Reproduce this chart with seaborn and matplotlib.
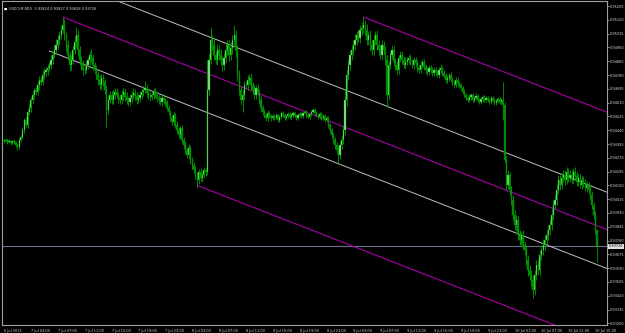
import numpy as np
import pandas as pd
import matplotlib
matplotlib.use("Agg")
import matplotlib.pyplot as plt
import matplotlib.transforms as mtransforms
import seaborn as sns

# ---------------- data (prices in points, 1 point = 0.00001) ----------------
closes = [
    94373,94380,94367,94373,94361,94373,94367,94349,94337,94380,94398,94441,94503,94472,94552,94577,
    94626,94657,94688,94675,94718,94749,94737,94780,94798,94811,94823,94842,94872,94903,94934,94965,
    94996,95026,95057,95088,95026,94965,94903,94842,94872,94934,94983,95026,94934,94872,94842,94811,
    94811,94842,94872,94903,94885,94842,94811,94780,94749,94718,94762,94737,94688,94564,94626,94657,
    94626,94657,94675,94657,94638,94626,94657,94675,94645,94626,94614,94638,94657,94669,94651,94626,
    94638,94657,94675,94688,94700,94669,94657,94645,94657,94675,94657,94638,94626,94614,94638,94626,
    94614,94577,94552,94515,94490,94534,94472,94441,94410,94453,94380,94349,94318,94287,94330,94256,
    94226,94195,94164,94133,94183,94146,94164,94195,94183,94688,94872,94996,94965,94903,94872,94934,
    94903,94872,94842,94885,94934,94965,94903,94946,94996,95026,94934,94780,94688,94626,94657,94718,
    94718,94749,94762,94718,94688,94657,94700,94675,94626,94577,94552,94534,94515,94546,94527,94515,
    94527,94515,94534,94503,94521,94546,94534,94515,94527,94540,94521,94534,94546,94527,94515,94534,
    94540,94527,94546,94552,94534,94521,94540,94552,94564,94546,94534,94521,94540,94515,94527,94503,
    94515,94472,94441,94410,94380,94349,94318,94287,94349,94380,94441,94626,94780,94842,94903,94934,
    94965,94996,95026,95008,95057,95070,95088,95057,94996,95026,94965,94934,94996,95026,94965,94934,
    94903,94965,94934,94872,94657,94842,94903,94934,94860,94842,94811,94885,94903,94872,94842,94860,
    94872,94885,94860,94842,94872,94854,94823,94811,94842,94860,94829,94811,94798,94823,94811,94792,
    94811,94798,94780,94811,94823,94792,94774,94749,94762,94780,94749,94737,94718,94749,94731,94718,
    94700,94675,94657,94638,94626,94645,94657,94626,94638,94651,94626,94614,94632,94645,94626,94638,
    94626,94614,94638,94626,94608,94620,94632,94614,94626,94595,94256,94102,94164,94072,94010,93918,
    93856,93887,93794,93764,93794,93733,93702,93640,93579,93548,93517,93456,93548,93610,93579,93671,
    93702,93733,93764,93794,93825,93856,93918,93979,94010,94072,94133,94102,94146,94164,94133,94183,
    94146,94164,94133,94183,94158,94121,94146,94102,94133,94115,94084,94102,94072,94041,93979,93918,
    93824,93726,
]
first_open = 94380

wick_up = [
    8,10,6,12,9,7,11,8,10,14,12,18,15,20,16,22,
    18,25,15,20,28,22,16,30,24,18,26,20,32,22,28,35,
    30,25,28,49,35,22,30,26,34,28,40,50,30,24,28,32,
    26,30,22,28,35,24,20,28,22,30,26,24,20,28,22,26,
    24,28,22,26,20,25,30,22,24,28,21,26,23,30,25,22,
    22,26,20,24,45,22,25,20,23,28,22,24,20,26,22,24,
    15,12,18,14,20,16,14,22,18,15,20,16,24,18,22,20,
    22,18,25,20,16,22,18,20,15,184,35,80,30,40,28,35,
    30,35,28,32,40,30,36,38,30,62,34,30,28,25,30,26,
    28,32,25,30,22,28,20,24,18,22,16,20,14,18,15,12,
    12,10,14,8,12,15,10,12,9,14,11,10,13,9,12,10,
    10,12,9,14,10,12,8,11,14,10,12,9,13,10,12,11,
    12,10,14,12,16,18,20,22,25,28,30,60,40,35,30,28,
    30,35,28,32,30,35,49,30,35,28,32,30,35,28,30,32,
    28,30,25,22,30,26,24,28,22,26,24,20,26,22,24,28,
    22,20,24,18,22,20,16,18,22,20,18,16,20,18,16,20,
    18,20,16,18,22,14,16,18,20,14,16,18,14,20,16,14,
    14,12,16,14,12,15,10,14,12,16,10,12,14,10,12,14,
    12,10,14,12,10,13,12,14,10,111,20,25,30,20,25,30,
    28,30,25,32,28,30,26,28,32,28,30,34,30,28,32,30,
    30,35,28,32,30,34,36,30,32,35,30,28,32,30,28,30,
    25,28,30,24,28,26,22,28,24,26,22,24,20,22,24,20,
    22,3,
]
wick_dn = [
    9,7,11,8,10,6,12,14,16,10,12,15,18,14,20,16,
    22,18,26,20,16,28,20,18,24,22,30,18,26,24,20,22,
    25,30,22,20,28,35,30,40,32,26,24,30,38,28,32,30,
    24,20,26,28,22,30,24,26,28,22,30,26,28,111,24,20,
    26,22,24,20,28,22,25,30,22,24,26,20,28,22,24,26,
    20,24,22,26,20,23,22,25,20,24,21,22,26,20,23,22,
    16,14,18,20,15,22,18,16,20,24,18,22,26,20,24,22,
    24,20,26,49,22,18,25,20,24,16,30,25,28,30,26,32,
    30,28,35,30,32,28,34,30,36,28,40,35,30,28,74,30,
    26,30,24,28,22,26,24,20,22,26,18,20,16,18,14,16,
    10,14,9,12,10,13,11,10,14,9,12,10,11,13,10,12,
    12,10,13,9,11,12,10,14,9,12,10,13,11,10,12,14,
    14,12,16,18,20,22,24,49,26,22,28,30,35,30,28,32,
    28,30,32,26,30,28,30,32,28,30,34,28,30,32,28,30,
    26,28,24,30,74,28,26,24,22,28,24,26,22,24,20,26,
    20,22,18,20,24,18,22,20,16,18,20,22,18,20,16,18,
    16,18,14,16,20,18,14,16,18,20,14,16,18,14,16,18,
    12,14,10,12,14,12,16,10,14,12,10,14,12,16,10,12,
    10,12,14,10,12,10,14,12,10,92,16,30,25,30,28,32,
    30,28,32,34,30,28,30,32,35,30,34,50,30,32,28,30,
    32,30,28,34,30,32,28,30,26,30,28,32,26,28,30,26,
    24,22,26,20,24,22,26,20,24,22,20,24,22,26,24,28,
    24,98,
]

time_labels = ["6 Jul 2015", "7 Jul 03:00", "7 Jul 07:00", "7 Jul 11:00", "7 Jul 15:00",
               "7 Jul 19:00", "7 Jul 23:00", "8 Jul 03:00", "8 Jul 07:00", "8 Jul 11:00",
               "8 Jul 15:00", "8 Jul 19:00", "8 Jul 23:00", "9 Jul 03:00", "9 Jul 07:00",
               "9 Jul 11:00", "9 Jul 15:00", "9 Jul 19:00", "9 Jul 23:00", "10 Jul 03:00",
               "10 Jul 07:00", "10 Jul 11:00", "10 Jul 15:00"]
bars_per_label = 16

price_ticks = [0.95205, 0.95120, 0.95035, 0.94950, 0.94865, 0.94780, 0.94695, 0.94610,
               0.94525, 0.94440, 0.94355, 0.94270, 0.94185, 0.94100, 0.94015, 0.93930,
               0.93845, 0.93760, 0.93675, 0.93590, 0.93505, 0.93420, 0.93335, 0.93250]

last_price = 0.93726
title_text = "USDCHF,M15  0.93824 0.93827 0.93628 0.93726"

# trend lines: (bar index pair, price pair)
magenta_lines = [
    ([35, 359], [0.95137, 0.93828]),
    ([115, 359], [0.94100, 0.93114]),
    ([214, 359], [0.95137, 0.94551]),
]
white_lines = [
    ([27, 359], [0.95400, 0.94058]),
    ([27, 359], [0.94928, 0.93588]),
]

# ---------------- build OHLC ----------------
c = np.array(closes, dtype=float) / 1e5
o = np.concatenate([[first_open / 1e5], c[:-1]])
h = np.maximum(o, c) + np.array(wick_up) / 1e5
l = np.minimum(o, c) - np.array(wick_dn) / 1e5
x = np.arange(len(c))
df = pd.DataFrame({"bar": x, "open": o, "high": h, "low": l, "close": c})

# ---------------- figure ----------------
sns.set_style("dark")
plt.rcParams["font.family"] = ["DejaVu Sans"]
fig = plt.figure(figsize=(6.25, 3.33), dpi=100, facecolor="black")
ax = fig.add_axes([2 / 625, 8 / 333, 605 / 625, 324 / 333])
ax.set_facecolor("black")

# channel / trend lines
for xs, ys in magenta_lines:
    sns.lineplot(x=xs, y=ys, ax=ax, color="#a800a8", linewidth=0.8, zorder=2)
for xs, ys in white_lines:
    sns.lineplot(x=xs, y=ys, ax=ax, color="#c0c0c0", linewidth=0.7, zorder=2)

# last price line
ax.axhline(last_price, color="#6c6e8e", linewidth=0.8, zorder=1)

# candles
up = df["close"] >= df["open"]
ax.vlines(df["bar"], df["low"], df["high"], color="#00a000", linewidth=0.6, zorder=3)
body_h = np.maximum((df["close"] - df["open"]).abs(), 0.000012)
body_b = np.minimum(df["open"], df["close"])
ax.bar(df["bar"][up], body_h[up], bottom=body_b[up], width=0.72,
       color="#8cea8c", edgecolor="#00a000", linewidth=0.25, zorder=4)
ax.bar(df["bar"][~up], body_h[~up], bottom=body_b[~up], width=0.72,
       color="#008a00", edgecolor="#00a000", linewidth=0.25, zorder=4)

ax.set_xlim(-1.2, 359)
ax.set_ylim(0.93240, 0.95236)

# axes styling
for side in ["left", "right", "top", "bottom"]:
    ax.spines[side].set_visible(True)
    ax.spines[side].set_color("#a0a0a0")
    ax.spines[side].set_linewidth(0.8)
ax.grid(False)

ax.yaxis.tick_right()
ax.set_yticks(price_ticks)
ax.set_yticklabels([f"{p:.5f}" for p in price_ticks])
ax.set_xticks(np.arange(len(time_labels)) * bars_per_label)
ax.set_xticklabels(time_labels, ha="left")
ax.tick_params(axis="both", colors="#c0c0c0", labelcolor="#d8d8d8", labelsize=2.5,
               length=1.5, width=0.5, pad=0.8, direction="out")
ax.tick_params(axis="x", pad=1.2)
ax.set_xlabel("")
ax.set_ylabel("")

# last price tag
trans = mtransforms.blended_transform_factory(ax.transAxes, ax.transData)
ax.text(1.003, last_price, f"{last_price:.5f}", transform=trans, fontsize=2.5,
        color="black", va="center", ha="left", zorder=10,
        bbox=dict(boxstyle="square,pad=0.15", facecolor="#e0e0e0", edgecolor="none"),
        clip_on=False)

# title
fig.text(4 / 625, 1 - 9 / 333, "\u25a0", fontsize=2.5, color="white", va="center")
fig.text(9 / 625, 1 - 9 / 333, title_text, fontsize=2.5, color="#e0e0e0", va="center")

fig.savefig("out.png", dpi=100, facecolor="black")
